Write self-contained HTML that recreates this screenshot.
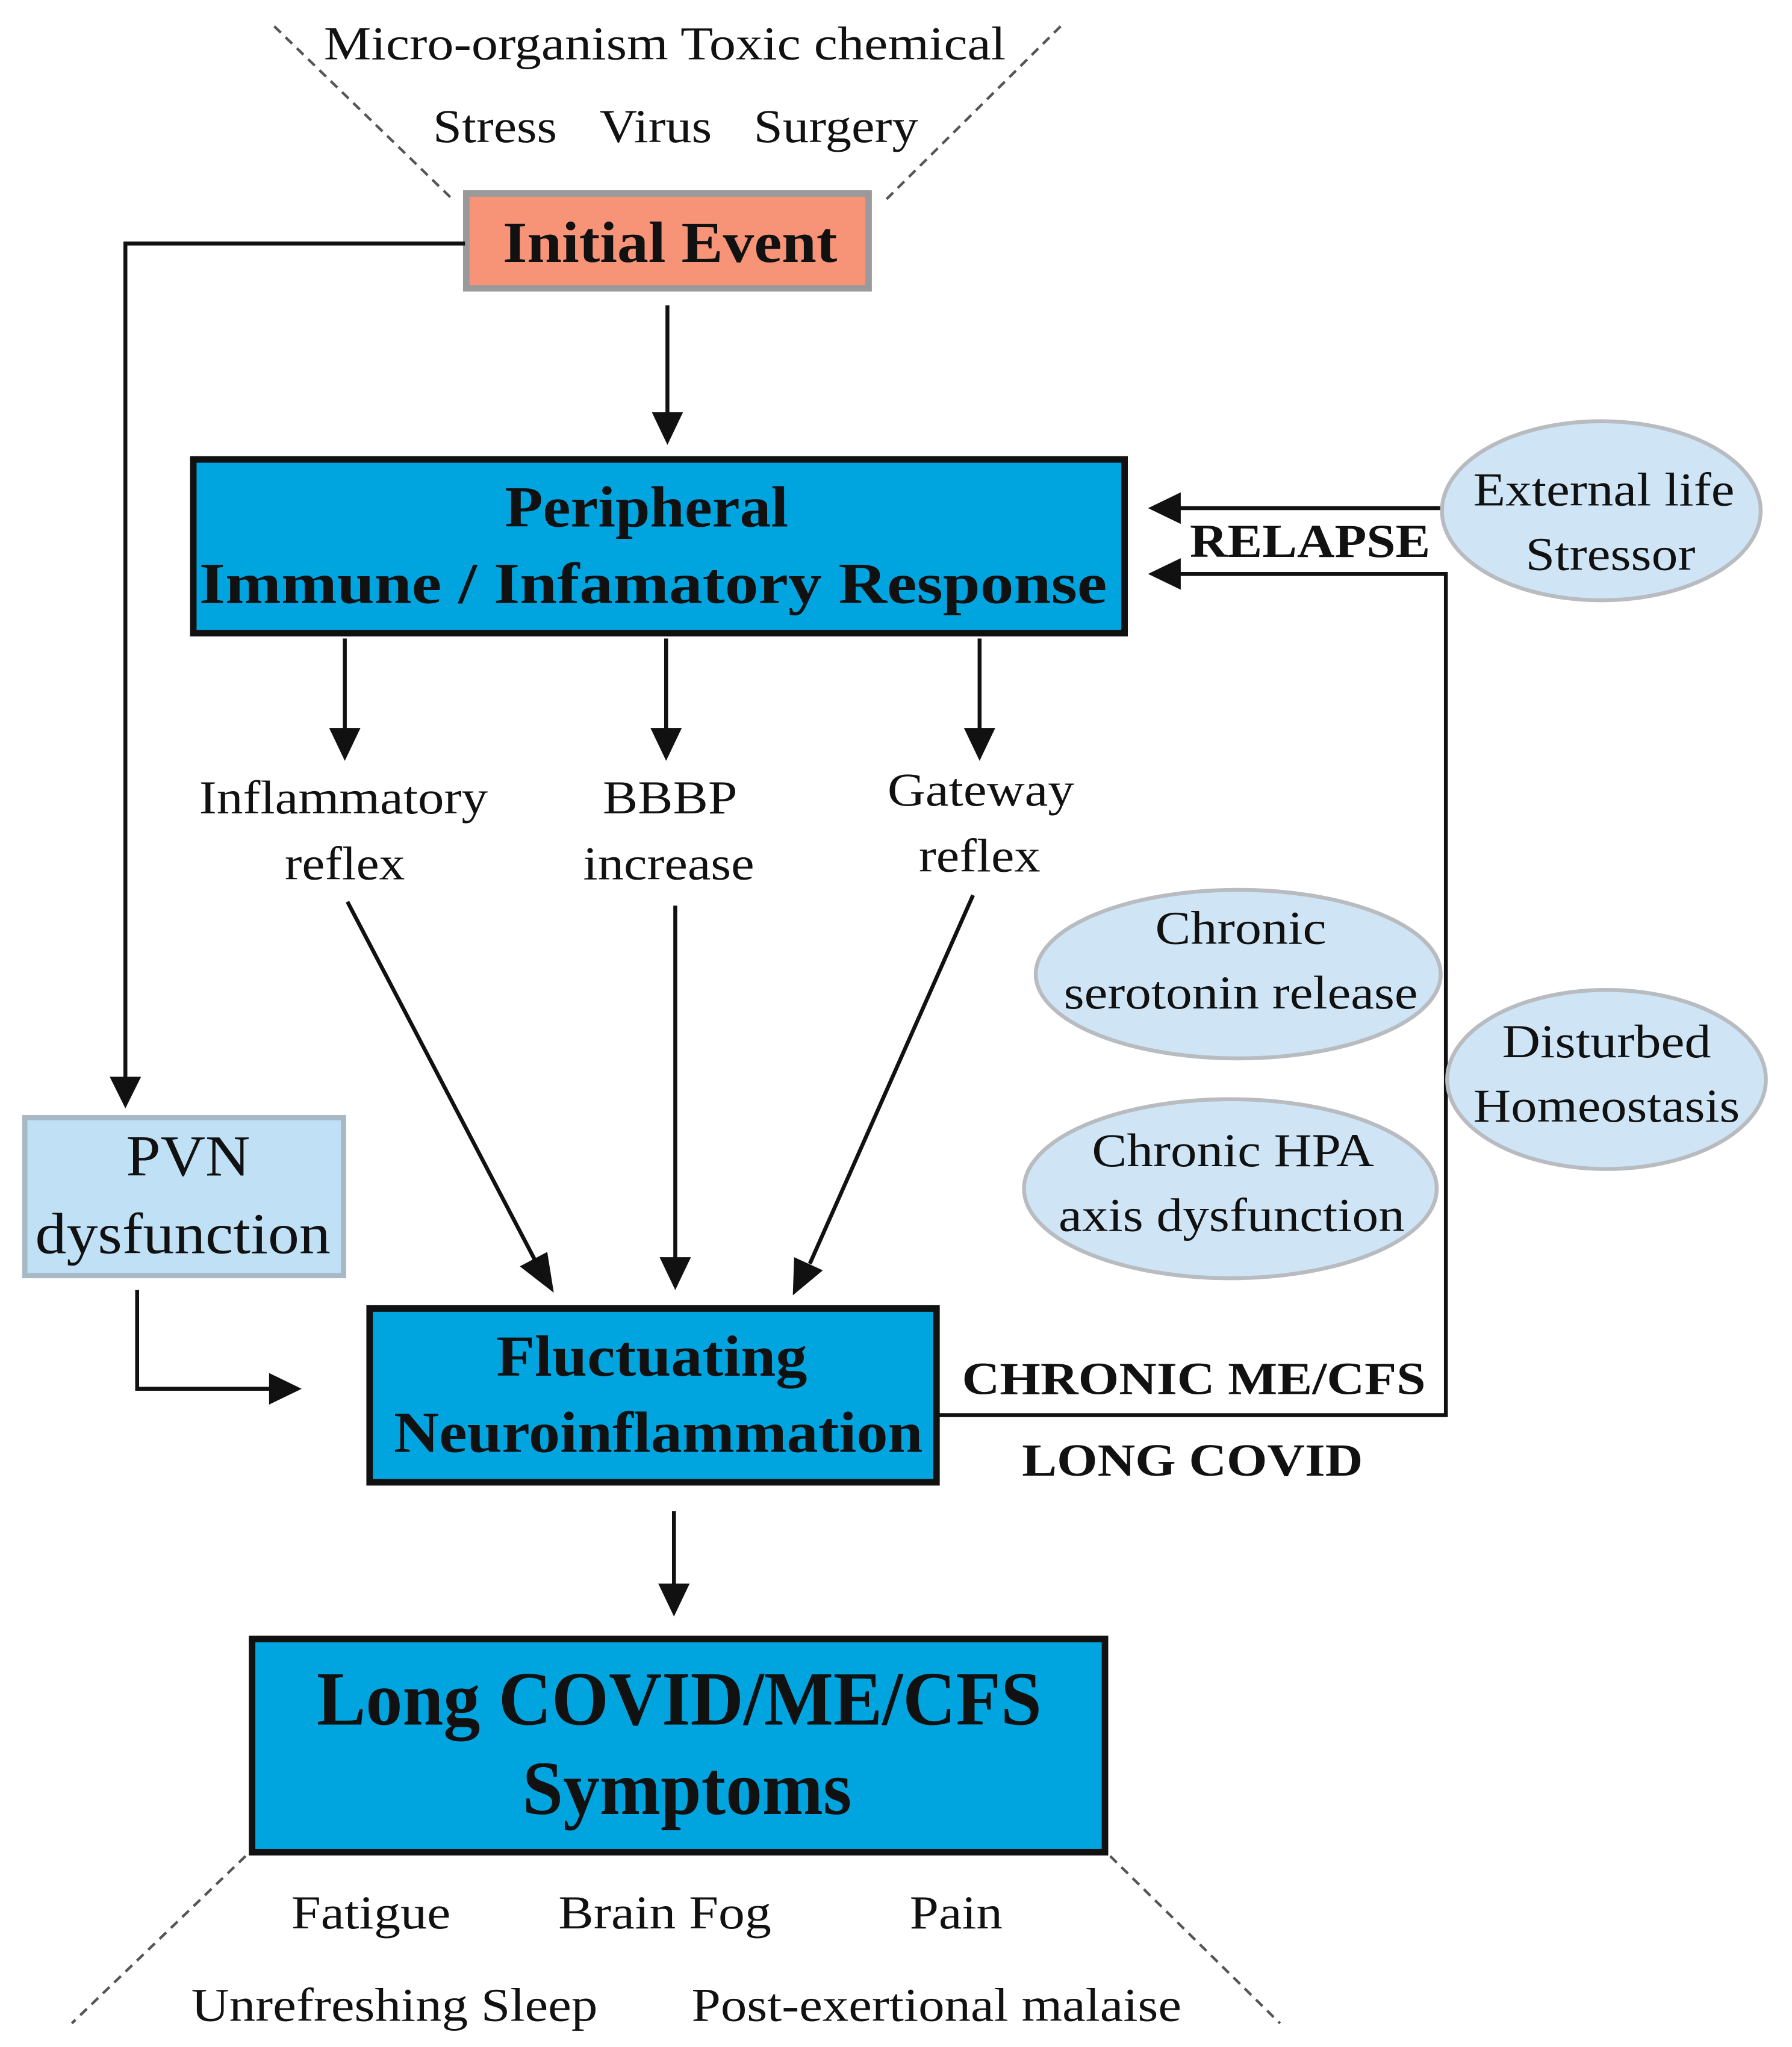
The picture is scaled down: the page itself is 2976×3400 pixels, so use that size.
<!DOCTYPE html>
<html><head><meta charset="utf-8"><style>
html,body{margin:0;padding:0;background:#fff;}
svg{display:block;}
text{font-family:"Liberation Serif","Times New Roman","DejaVu Serif",serif;fill:#111;}
.b{font-weight:bold;}
</style></head><body>
<svg width="2976" height="3400" viewBox="0 0 1372 1555" preserveAspectRatio="none" xmlns="http://www.w3.org/2000/svg" font-family="Liberation Serif, serif">
<g stroke="#555" stroke-width="2" stroke-dasharray="7,5" fill="none">
<line x1="210" y1="20" x2="345" y2="150"/>
<line x1="812" y1="20" x2="678" y2="152"/>
<line x1="188" y1="1410" x2="55" y2="1537"/>
<line x1="850" y1="1410" x2="980" y2="1537"/>
</g>
<g font-size="36" text-anchor="middle" lengthAdjust="spacingAndGlyphs">
<text x="509" y="45" textLength="522" lengthAdjust="spacingAndGlyphs">Micro-organism Toxic chemical</text>
<text x="379" y="108" textLength="95" lengthAdjust="spacingAndGlyphs">Stress</text>
<text x="502" y="108" textLength="86" lengthAdjust="spacingAndGlyphs">Virus</text>
<text x="640" y="108" textLength="126" lengthAdjust="spacingAndGlyphs">Surgery</text>
</g>
<rect x="357" y="147" width="308" height="72" fill="#f79478" stroke="#9a9a9a" stroke-width="5"/>
<text x="513" y="199" font-size="44" class="b" text-anchor="middle" textLength="256" lengthAdjust="spacingAndGlyphs">Initial Event</text>

<g stroke="#111" stroke-width="3" fill="none">
<polyline points="356,185 96,185 96,820"/>
<line x1="511" y1="232" x2="511" y2="315"/>
<line x1="264" y1="485" x2="264" y2="555"/>
<line x1="510" y1="485" x2="510" y2="555"/>
<line x1="750" y1="485" x2="750" y2="555"/>
<line x1="266" y1="685" x2="410" y2="958"/>
<line x1="517" y1="688" x2="517" y2="957"/>
<line x1="745" y1="680" x2="620" y2="960"/>
<polyline points="105,980 105,1055 208,1055"/>
<line x1="516" y1="1148" x2="516" y2="1205"/>
<polyline points="718,1075 1107,1075 1107,436 902,436"/>
<line x1="1105" y1="386" x2="902" y2="386"/>
</g>
<g fill="#111">
<polygon points="84,818 108,818 96,842"/>
<polygon points="499,313 523,313 511,338"/>
<polygon points="252,553 276,553 264,578"/>
<polygon points="498,553 522,553 510,578"/>
<polygon points="738,553 762,553 750,578"/>
<polygon points="398,962 419,951 424,982"/>
<polygon points="505,955 529,955 517,980"/>
<polygon points="608,955 630,965 607,984"/>
<polygon points="206,1043 206,1067 231,1055"/>
<polygon points="504,1203 528,1203 516,1228"/>
<polygon points="904,374 904,398 879,386"/>
<polygon points="904,424 904,448 879,436"/>
</g>

<rect x="148" y="349" width="713" height="132" fill="#00a5e0" stroke="#111" stroke-width="5"/>
<text x="495" y="400" font-size="44" class="b" text-anchor="middle" textLength="217" lengthAdjust="spacingAndGlyphs">Peripheral</text>
<text x="500" y="458" font-size="44" class="b" text-anchor="middle" textLength="695" lengthAdjust="spacingAndGlyphs">Immune / Infamatory Response</text>

<g font-size="36" text-anchor="middle">
<text x="263" y="618" textLength="221" lengthAdjust="spacingAndGlyphs">Inflammatory</text>
<text x="264" y="668" textLength="92" lengthAdjust="spacingAndGlyphs">reflex</text>
<text x="513" y="618" textLength="103" lengthAdjust="spacingAndGlyphs">BBBP</text>
<text x="512" y="668" textLength="131" lengthAdjust="spacingAndGlyphs">increase</text>
<text x="751" y="612" textLength="143" lengthAdjust="spacingAndGlyphs">Gateway</text>
<text x="750" y="662" textLength="93" lengthAdjust="spacingAndGlyphs">reflex</text>
</g>

<rect x="19" y="849" width="244" height="120" fill="#bfe0f5" stroke="#a8b8c4" stroke-width="4"/>
<text x="144" y="893" font-size="44" text-anchor="middle" textLength="95" lengthAdjust="spacingAndGlyphs">PVN</text>
<text x="140" y="952" font-size="44" text-anchor="middle" textLength="226" lengthAdjust="spacingAndGlyphs">dysfunction</text>

<rect x="283" y="994" width="434" height="132" fill="#00a5e0" stroke="#111" stroke-width="5"/>
<text x="499" y="1045" font-size="44" class="b" text-anchor="middle" textLength="238" lengthAdjust="spacingAndGlyphs">Fluctuating</text>
<text x="504" y="1103" font-size="44" class="b" text-anchor="middle" textLength="405" lengthAdjust="spacingAndGlyphs">Neuroinflammation</text>

<rect x="193" y="1245" width="653" height="162" fill="#00a5e0" stroke="#111" stroke-width="5"/>
<text x="520" y="1310" font-size="58" class="b" text-anchor="middle" textLength="555" lengthAdjust="spacingAndGlyphs">Long COVID/ME/CFS</text>
<text x="526" y="1378" font-size="58" class="b" text-anchor="middle" textLength="252" lengthAdjust="spacingAndGlyphs">Symptoms</text>

<g font-size="36" text-anchor="middle">
<text x="284" y="1465" textLength="122" lengthAdjust="spacingAndGlyphs">Fatigue</text>
<text x="509" y="1465" textLength="163" lengthAdjust="spacingAndGlyphs">Brain Fog</text>
<text x="732" y="1465" textLength="71" lengthAdjust="spacingAndGlyphs">Pain</text>
<text x="302" y="1535" textLength="311" lengthAdjust="spacingAndGlyphs">Unrefreshing Sleep</text>
<text x="717" y="1535" textLength="375" lengthAdjust="spacingAndGlyphs">Post-exertional malaise</text>
</g>

<text x="1003" y="423" font-size="36" class="b" text-anchor="middle" textLength="184" lengthAdjust="spacingAndGlyphs">RELAPSE</text>
<text x="914" y="1059" font-size="35" class="b" text-anchor="middle" textLength="355" lengthAdjust="spacingAndGlyphs">CHRONIC ME/CFS</text>
<text x="913" y="1121" font-size="35" class="b" text-anchor="middle" textLength="261" lengthAdjust="spacingAndGlyphs">LONG COVID</text>

<g fill="#cfe5f6" stroke="#b8bcc0" stroke-width="3">
<ellipse cx="1226" cy="388" rx="122" ry="68"/>
<ellipse cx="948" cy="740" rx="155" ry="64"/>
<ellipse cx="1230" cy="820" rx="122" ry="68"/>
<ellipse cx="942" cy="903" rx="158" ry="68"/>
</g>
<g font-size="36" text-anchor="middle">
<text x="1228" y="384" textLength="200" lengthAdjust="spacingAndGlyphs">External life</text>
<text x="1233" y="433" textLength="130" lengthAdjust="spacingAndGlyphs">Stressor</text>
<text x="950" y="717" textLength="131" lengthAdjust="spacingAndGlyphs">Chronic</text>
<text x="950" y="766" textLength="271" lengthAdjust="spacingAndGlyphs">serotonin release</text>
<text x="1230" y="803" textLength="160" lengthAdjust="spacingAndGlyphs">Disturbed</text>
<text x="1230" y="852" textLength="204" lengthAdjust="spacingAndGlyphs">Homeostasis</text>
<text x="944" y="886" textLength="216" lengthAdjust="spacingAndGlyphs">Chronic HPA</text>
<text x="943" y="935" textLength="265" lengthAdjust="spacingAndGlyphs">axis dysfunction</text>
</g>
</svg>
</body></html>
